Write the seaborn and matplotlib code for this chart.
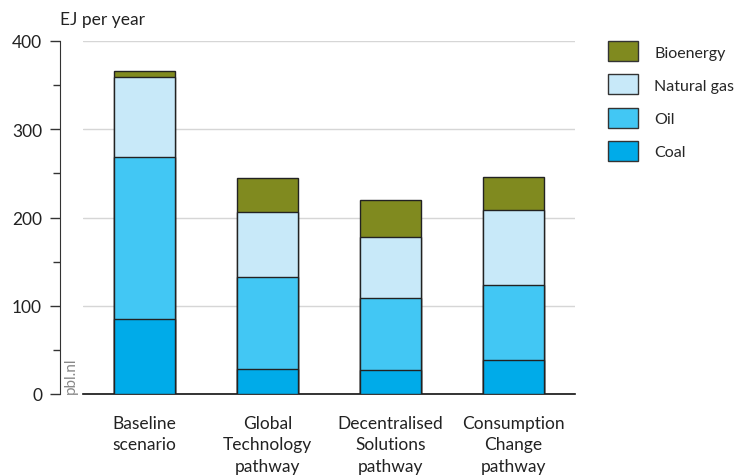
import pandas as pd
import seaborn as sns
import matplotlib.pyplot as plt
from matplotlib.patches import Patch

# data (EJ per year, stacked segments)
scenarios = ["Baseline\nscenario", "Global\nTechnology\npathway",
             "Decentralised\nSolutions\npathway", "Consumption\nChange\npathway"]
coal = [85, 28, 27, 38]
oil = [184, 105, 82, 86]
natural_gas = [90, 73, 69, 85]
bioenergy = [7, 39, 42, 37]

sources = ["Coal", "Oil", "Natural gas", "Bioenergy"]
colors = {"Coal": "#00abe9", "Oil": "#42c7f4", "Natural gas": "#c8e9f9", "Bioenergy": "#808a1f"}

df = pd.DataFrame({"scenario": scenarios, "Coal": coal, "Oil": oil,
                   "Natural gas": natural_gas, "Bioenergy": bioenergy})
cum = df[sources].cumsum(axis=1)
cum["scenario"] = df["scenario"]

sns.set_style("white")
plt.rcParams['font.family'] = ['Lato', 'DejaVu Sans']

fig = plt.figure(figsize=(7.38, 4.77), dpi=100)
ax = fig.add_axes([83 / 738, 1 - 395 / 477, (575 - 83) / 738, (395 - 42) / 477])

# draw cumulative totals from the top layer down so segments stack
for s in reversed(sources):
    sns.barplot(data=cum, x="scenario", y=s, color=colors[s], width=0.5,
                edgecolor="#222222", linewidth=1, saturation=1, ax=ax, zorder=3)

ax.set_ylim(0, 400)
ax.set_xlim(-0.5, 3.5)
ax.set_xlabel("")
ax.set_ylabel("")
ax.set_yticks([0, 100, 200, 300, 400])
ax.set_yticks([50, 150, 250, 350], minor=True)
ax.yaxis.grid(True, color="#d6d6d6", linewidth=1, zorder=0)
ax.set_axisbelow(True)

for sp in ["top", "right"]:
    ax.spines[sp].set_visible(False)
ax.spines["left"].set_position(("outward", 16.5))
ax.spines["left"].set_color("#333333")
ax.spines["bottom"].set_color("#111111")
ax.spines["bottom"].set_linewidth(1.2)

ax.tick_params(axis="y", which="major", length=7, width=1, color="#333333",
               labelsize=12.5, pad=6, left=True, labelcolor="#222222")
ax.tick_params(axis="y", which="minor", length=5, width=1, color="#333333", left=True)
ax.tick_params(axis="x", length=0, labelsize=12.5, pad=15, labelcolor="#222222")
for lbl in ax.get_xticklabels():
    lbl.set_linespacing(1.42)

fig.text(60 / 738, 1 - 20 / 477, "EJ per year", fontsize=12.5, va="center", ha="left", color="#222222")
fig.text(71 / 738, 1 - 376 / 477, "pbl.nl", fontsize=11, rotation=90, va="center", ha="center", color="#888888")

handles = [Patch(facecolor=colors[s], edgecolor="#333333", label=s) for s in reversed(sources)]
fig.legend(handles=handles, loc="upper left", bbox_to_anchor=(602 / 738, 1 - 36 / 477),
           frameon=False, fontsize=11.5, handlelength=1.88, handleheight=1.55,
           labelspacing=0.82, handletextpad=1.0, borderaxespad=0)

fig.savefig("out.png", dpi=100)
